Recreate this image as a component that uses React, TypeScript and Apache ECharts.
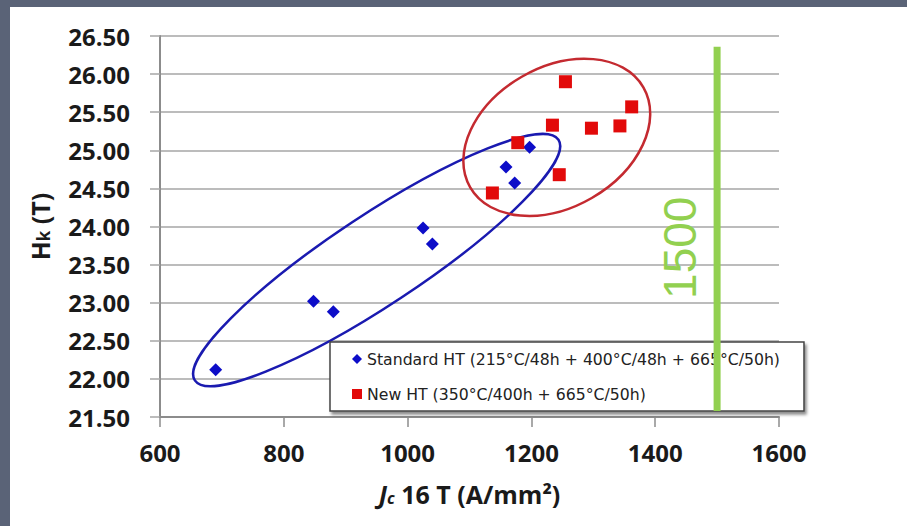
import React, { useEffect, useRef } from "react";
import * as echarts from "echarts";

const xTicks = [600, 800, 1000, 1200, 1400, 1600];
const yTicks = [21.5, 22, 22.5, 23, 23.5, 24, 24.5, 25, 25.5, 26, 26.5];
const stdName = "Standard HT (215°C/48h + 400°C/48h + 665°C/50h)";
const newName = "New HT (350°C/400h + 665°C/50h)";
const stdX = [690, 848, 880, 1025, 1040, 1159, 1173, 1197];
const stdY = [22.12, 23.02, 22.88, 23.98, 23.77, 24.78, 24.57, 25.04];
const newX = [1137, 1178, 1234, 1245, 1255, 1297, 1343, 1362];
const newY = [24.44, 25.1, 25.33, 24.68, 25.9, 25.29, 25.32, 25.57];
const markerX = 1500;
const markerYRange = [21.58, 26.36];
const markerLabel = "1500";
const stdEllipseCenter = [950, 23.56];
const newEllipseCenter = [1241, 25.17];

export default function App() {
  const ref = useRef<HTMLDivElement>(null);
  useEffect(() => {
    if (!ref.current) return;
    const chart = echarts.init(ref.current, null, { renderer: "svg" });
    const tickFont = {
      fontFamily: "Open Sans",
      fontWeight: "bold" as const,
      fontSize: 24,
      color: "#1a1a1a",
    };
    chart.setOption({
      animation: false,
      backgroundColor: "#ffffff",
      grid: { left: 160, right: 128, top: 36, bottom: 109 },
      xAxis: {
        type: "value",
        min: xTicks[0],
        max: xTicks[xTicks.length - 1],
        interval: 200,
        splitLine: { show: false },
        axisLine: { show: true, lineStyle: { color: "#8c8c8c", width: 2 } },
        axisTick: { show: true, length: 10, lineStyle: { color: "#8c8c8c", width: 1.5 } },
        axisLabel: { ...tickFont, margin: 23, formatter: (v: number) => String(v) },
        name: "{j|J}{c|c}{t| 16 T (A/mm²)}",
        nameLocation: "middle",
        nameGap: 64,
        nameTextStyle: {
          rich: {
            j: { fontFamily: "Open Sans", fontWeight: "bold", fontStyle: "italic", fontSize: 25, color: "#1a1a1a" },
            c: { fontFamily: "Open Sans", fontWeight: "bold", fontStyle: "italic", fontSize: 16, color: "#1a1a1a", padding: [8, 0, 0, 0] },
            t: { fontFamily: "Open Sans", fontWeight: "bold", fontSize: 25, color: "#1a1a1a" },
          },
        },
      },
      yAxis: {
        type: "value",
        min: yTicks[0],
        max: yTicks[yTicks.length - 1],
        interval: 0.5,
        splitLine: { show: true, lineStyle: { color: "#a6a6a6", width: 1.5 } },
        axisLine: { show: true, lineStyle: { color: "#8c8c8c", width: 2 } },
        axisTick: { show: true, length: 10, lineStyle: { color: "#a6a6a6", width: 1.5 } },
        axisLabel: { ...tickFont, margin: 30, formatter: (v: number) => v.toFixed(2) },
        name: "{h|H}{k|k}{h| (T)}",
        nameLocation: "middle",
        nameRotate: 90,
        nameGap: 108,
        nameTextStyle: {
          rich: {
            h: { fontFamily: "Open Sans", fontWeight: "bold", fontSize: 25, color: "#1a1a1a" },
            k: { fontFamily: "Open Sans", fontWeight: "bold", fontSize: 17, color: "#1a1a1a", padding: [8, 0, 0, 0] },
          },
        },
      },
      legend: {
        orient: "vertical",
        left: 330,
        top: 342,
        itemWidth: 10,
        itemHeight: 10,
        itemGap: 19,
        padding: [9, 24, 9, 22],
        backgroundColor: "#ffffff",
        borderColor: "#444444",
        borderWidth: 1.5,
        shadowColor: "rgba(0,0,0,0.45)",
        shadowBlur: 3,
        shadowOffsetX: 2,
        shadowOffsetY: 3,
        z: 10,
        textStyle: { fontFamily: "DejaVu Sans", fontSize: 15.7, color: "#222222" },
        data: [stdName, newName],
      },
      series: [
        {
          name: stdName,
          type: "scatter",
          symbol: "diamond",
          symbolSize: 13,
          itemStyle: { color: "#0d0dc8", opacity: 1 },
          data: stdX.map((x, i) => [x, stdY[i]]),
          z: 4,
        },
        {
          name: newName,
          type: "scatter",
          symbol: "rect",
          symbolSize: 13,
          itemStyle: { color: "#e20a0a", opacity: 1 },
          data: newX.map((x, i) => [x, newY[i]]),
          z: 4,
        },
      ],
    });

    const sc = chart.convertToPixel({ gridIndex: 0 }, stdEllipseCenter) as number[];
    const nc = chart.convertToPixel({ gridIndex: 0 }, newEllipseCenter) as number[];
    const lTop = chart.convertToPixel({ gridIndex: 0 }, [markerX, markerYRange[1]]) as number[];
    const lBot = chart.convertToPixel({ gridIndex: 0 }, [markerX, markerYRange[0]]) as number[];

    chart.setOption({
      graphic: [
        { type: "rect", left: 0, top: 0, shape: { width: 907, height: 7 }, style: { fill: "#5a6377" }, z: 50 },
        { type: "rect", left: 0, top: 0, shape: { width: 10, height: 526 }, style: { fill: "#5a6377" }, z: 50 },
        {
          type: "ellipse",
          x: sc[0],
          y: sc[1],
          rotation: (33.5 * Math.PI) / 180,
          shape: { cx: 0, cy: 0, rx: 218, ry: 45 },
          style: { fill: "none", stroke: "#1a1ab0", lineWidth: 2.5 },
          z: 3,
        },
        {
          type: "ellipse",
          x: nc[0],
          y: nc[1],
          rotation: (30 * Math.PI) / 180,
          shape: { cx: 0, cy: 0, rx: 100, ry: 70 },
          style: { fill: "none", stroke: "#c42a30", lineWidth: 2.5 },
          z: 3,
        },
        {
          type: "line",
          shape: { x1: lTop[0], y1: lTop[1], x2: lBot[0], y2: lBot[1] },
          style: { stroke: "#92d050", lineWidth: 7 },
          z: 20,
        },
        {
          type: "text",
          x: lTop[0] - 37,
          y: (lTop[1] + lBot[1]) / 2 + 19,
          rotation: Math.PI / 2,
          style: {
            text: markerLabel,
            fill: "#92d050",
            font: "46px 'Liberation Sans'",
            align: "center",
            verticalAlign: "middle",
          },
          z: 20,
        },
      ],
    });
    return () => chart.dispose();
  }, []);
  return (
    <div style={{ position: "fixed", left: 0, top: 0, width: 907, height: 526, background: "#fff" }}>
      <div ref={ref} style={{ width: 907, height: 526 }} />
    </div>
  );
}
